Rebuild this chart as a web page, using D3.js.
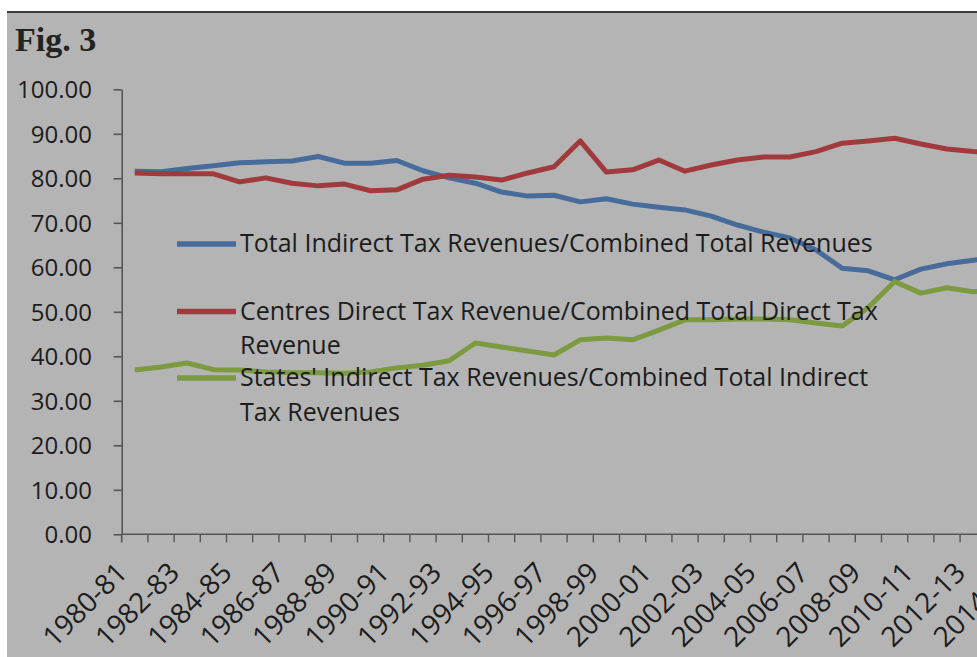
<!DOCTYPE html>
<html>
<head>
<meta charset="utf-8">
<script src="https://cdn.jsdelivr.net/npm/d3@7"></script>
<style>
  body { margin: 0; background: #fff; overflow: hidden; }
  svg { display: block; }
  .tick text, .lbl { font-family: "Open Sans", sans-serif; fill: #1c1c1c; }
</style>
</head>
<body>
<div id="fig3"></div>
<script>
var years = ["1980-81","1981-82","1982-83","1983-84","1984-85","1985-86","1986-87","1987-88",
  "1988-89","1989-90","1990-91","1991-92","1992-93","1993-94","1994-95","1995-96","1996-97",
  "1997-98","1998-99","1999-00","2000-01","2001-02","2002-03","2003-04","2004-05","2005-06",
  "2006-07","2007-08","2008-09","2009-10","2010-11","2011-12","2012-13","2013-14","2014-15"];

var totalIndirect = [81.6,81.5,82.2,82.8,83.5,83.7,83.9,84.9,83.4,83.4,84.0,81.7,80.1,78.9,76.9,76.0,
  76.2,74.7,75.4,74.2,73.5,72.9,71.5,69.5,67.9,66.6,63.9,59.8,59.2,57.2,59.6,60.8,61.6,62.3];
var centresDirect = [81.2,81.0,81.0,81.0,79.2,80.1,78.9,78.3,78.7,77.2,77.4,79.8,80.7,80.3,79.6,81.2,
  82.6,88.4,81.4,81.9,84.1,81.6,83.0,84.1,84.8,84.8,86.0,87.9,88.4,89.0,87.7,86.6,86.0,85.7];
var statesIndirect = [36.9,37.6,38.5,37.0,36.9,36.5,36.3,36.3,36.2,36.5,37.4,38.0,39.0,43.0,42.1,41.2,
  40.3,43.7,44.1,43.7,45.9,48.2,48.2,48.4,48.4,48.2,47.5,46.8,51.0,56.8,54.2,55.4,54.5,54.8];

var yTicks = [0,10,20,30,40,50,60,70,80,90,100];
var xLabels = years.filter(function (d, i) { return i % 2 === 0; });

var seriesNames = [
  ["Total Indirect Tax Revenues/Combined Total Revenues"],
  ["Centres Direct Tax Revenue/Combined Total Direct Tax", "Revenue"],
  ["States' Indirect Tax Revenues/Combined Total Indirect", "Tax Revenues"]
];
var seriesColors = ["#476c9c", "#a13a3d", "#7c9a40"];
var seriesValues = [totalIndirect, centresDirect, statesIndirect];

var drawFig3 = function () {
    var width = 977, height = 657,
        plotLeft = 121.7, step = 26.2,
        plotTop = 89.3, plotBottom = 534.3;

    var svg = d3.select("#fig3").append("svg")
        .attr("width", width)
        .attr("height", height);

    // grey chart area with dark top edge
    svg.append("rect")
        .attr("x", 7).attr("y", 12)
        .attr("width", width - 7).attr("height", height - 12)
        .style("fill", "#b4b4b4");
    svg.append("line")
        .attr("x1", 7).attr("x2", width)
        .attr("y1", 12).attr("y2", 12)
        .style("stroke", "#3c3c3c").style("stroke-width", 2);

    svg.append("text")
        .attr("x", 15).attr("y", 51)
        .style("font-family", "'Liberation Serif', serif")
        .style("font-weight", "bold")
        .style("font-size", "34px")
        .style("fill", "#222")
        .text("Fig. 3");

    var x = d3.scaleBand().domain(years).range([plotLeft, plotLeft + years.length * step]).padding(0);
    var y = d3.scaleLinear().domain([0, 100]).range([plotBottom, plotTop]);
    var cx = d => x(d) + x.bandwidth() / 2;

    // Y axis
    var yAxis = d3.axisLeft(y).tickValues(yTicks).tickFormat(d3.format(".2f"))
        .tickSize(8).tickPadding(21.7).tickSizeOuter(0);
    var gy = svg.append("g")
        .attr("class", "y axis")
        .attr("transform", `translate(${plotLeft},0)`)
        .call(yAxis);
    gy.select(".domain").style("stroke", "#555").style("stroke-width", 1.6);
    gy.selectAll(".tick line").style("stroke", "#555").style("stroke-width", 1.6);
    gy.selectAll(".tick text").style("font-size", "24px").attr("dy", "0.35em");
    gy.append("line").attr("y1", y(0)).attr("y2", y(0) + 8)
        .style("stroke", "#555").style("stroke-width", 1.6);

    // X axis: ticks sit between categories
    var gx = svg.append("g").attr("class", "x axis");
    gx.append("line")
        .attr("x1", plotLeft).attr("x2", plotLeft + years.length * step)
        .attr("y1", y(0)).attr("y2", y(0))
        .style("stroke", "#555").style("stroke-width", 1.6);
    gx.selectAll(".xt")
        .data(years.slice(1))
        .enter().append("line")
        .attr("class", "xt")
        .attr("x1", d => x(d)).attr("x2", d => x(d))
        .attr("y1", y(0)).attr("y2", y(0) + 8)
        .style("stroke", "#555").style("stroke-width", 1.4);
    gx.selectAll(".lbl")
        .data(xLabels)
        .enter().append("text")
        .attr("class", "lbl")
        .attr("text-anchor", "end")
        .style("font-size", "28px")
        .attr("transform", d => `translate(${cx(d) - 6},${y(0) + 40}) rotate(-45)`)
        .text(d => d);

    // series lines
    var line = d3.line()
        .x((d, i) => cx(years[i]))
        .y(d => y(d));

    svg.selectAll(".series")
        .data(seriesValues)
        .enter().append("path")
        .attr("class", "series")
        .attr("d", d => line(d))
        .style("fill", "none")
        .style("stroke", (d, i) => seriesColors[i])
        .style("stroke-width", 5)
        .style("stroke-linejoin", "round");

    // legend sits over the plot
    var legendBase = [252, 319.5, 386];
    var legend = svg.selectAll(".legend")
        .data(seriesNames)
        .enter().append("g")
        .attr("class", "legend")
        .attr("transform", (d, i) => `translate(177,${legendBase[i]})`);

    legend.append("line")
        .attr("x1", 0).attr("x2", 59)
        .attr("y1", -8).attr("y2", -8)
        .style("stroke", (d, i) => seriesColors[i])
        .style("stroke-width", 5.5);

    legend.append("text")
        .attr("class", "lbl")
        .style("font-size", "25px")
        .selectAll("tspan")
        .data(d => d)
        .enter().append("tspan")
        .attr("x", 63)
        .attr("y", (d, j) => j * 34.5)
        .text(d => d);
};

drawFig3();
</script>
</body>
</html>
